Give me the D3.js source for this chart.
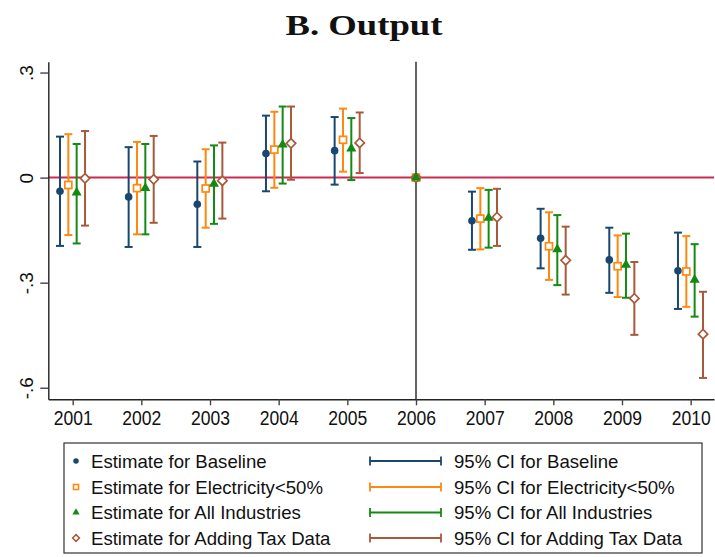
<!DOCTYPE html>
<html><head><meta charset="utf-8">
<script src="https://cdn.jsdelivr.net/npm/d3@7/dist/d3.min.js"></script>
<style>body{margin:0;background:#fff}</style>
</head><body>
<svg id="chart" width="715" height="557"></svg>
<script>
const years = [2001, 2002, 2003, 2004, 2005, 2006, 2007, 2008, 2009, 2010];
const refYear = 2006;
const seriesNames = ["Baseline", "Electricity<50%", "All Industries", "Adding Tax Data"];
const yTickValues = [0.3, 0, -0.3, -0.6];
const yTickLabels = [".3", "0", "-.3", "-.6"];

const baselineEst = [-0.039, -0.055, -0.076, 0.069, 0.077, 0, -0.123, -0.173, -0.235, -0.266];
const baselineLo  = [-0.195, -0.198, -0.198, -0.039, -0.020, 0, -0.206, -0.259, -0.329, -0.375];
const baselineHi  = [0.117, 0.087, 0.046, 0.177, 0.173, 0, -0.040, -0.089, -0.143, -0.157];

const elecEst = [-0.021, -0.030, -0.031, 0.080, 0.108, 0, -0.117, -0.196, -0.253, -0.268];
const elecLo  = [-0.164, -0.162, -0.143, -0.029, 0.017, 0, -0.205, -0.292, -0.341, -0.369];
const elecHi  = [0.124, 0.102, 0.081, 0.188, 0.197, 0, -0.030, -0.099, -0.165, -0.167];

const allEst = [-0.043, -0.030, -0.018, 0.094, 0.083, 0, -0.115, -0.205, -0.249, -0.292];
const allLo  = [-0.188, -0.162, -0.132, -0.017, -0.007, 0, -0.200, -0.307, -0.343, -0.397];
const allHi  = [0.096, 0.096, 0.092, 0.203, 0.170, 0, -0.035, -0.107, -0.160, -0.190];

const taxEst = [-0.002, -0.005, -0.009, 0.098, 0.099, 0, -0.113, -0.236, -0.345, -0.447];
const taxLo  = [-0.137, -0.129, -0.117, -0.006, 0.013, 0, -0.195, -0.334, -0.449, -0.572];
const taxHi  = [0.133, 0.119, 0.100, 0.203, 0.186, 0, -0.032, -0.140, -0.241, -0.326];

const colors = ["#1a476f", "#ff8811", "#138a13", "#a8593a"];
const markers = ["circle", "square", "triangle", "diamond"];
const offsets = [-0.185, -0.063, 0.058, 0.18];

const series = seriesNames.map((name, i) => ({
  name, color: colors[i], marker: markers[i], offset: offsets[i],
  values: years.map((yr, j) => ({
    year: yr,
    est: [baselineEst, elecEst, allEst, taxEst][i][j],
    lo: [baselineLo, elecLo, allLo, taxLo][i][j],
    hi: [baselineHi, elecHi, allHi, taxHi][i][j]
  }))
}));

const svg = d3.select("#chart");
const pLeft = 48.3, pRight = 714, pTop = 61.7, pBottom = 399.3;
const x = d3.scaleLinear().domain([2000.645, 2010.34]).range([pLeft, pRight]);
const y = d3.scaleLinear().domain([-0.633, 0.331]).range([pBottom, pTop]);
const font = "'Liberation Sans', Arial, Helvetica, sans-serif";

// title
svg.append("text").attr("x", 364).attr("y", 35).attr("text-anchor", "middle")
  .attr("font-family", "'Liberation Serif', 'Times New Roman', serif").attr("font-weight", "bold")
  .attr("font-size", 30).attr("textLength", 157).attr("lengthAdjust", "spacingAndGlyphs")
  .attr("fill", "#111").text("B. Output");

// zero line
svg.append("line").attr("x1", pLeft).attr("x2", pRight).attr("y1", y(0)).attr("y2", y(0))
  .attr("stroke", "#cc2a52").attr("stroke-width", 2);
// reference year line
svg.append("line").attr("x1", x(refYear)).attr("x2", x(refYear)).attr("y1", pTop).attr("y2", pBottom)
  .attr("stroke", "#222").attr("stroke-width", 1.4);

// axes
const yAxis = d3.axisLeft(y).tickValues(yTickValues)
  .tickFormat((d, i) => yTickLabels[i]).tickSize(8).tickSizeOuter(0);
const gy = svg.append("g").attr("transform", `translate(${pLeft},0)`).call(yAxis);
gy.select(".domain").attr("stroke", "#222").attr("stroke-width", 1.4);
gy.selectAll(".tick line").attr("stroke", "#444").attr("stroke-width", 1.4);
gy.selectAll(".tick text").attr("transform", "rotate(-90)").attr("x", 0).attr("y", -15.5)
  .attr("dy", 0).attr("text-anchor", "middle").attr("font-family", font).attr("font-size", 19).attr("fill", "#111");

const xAxis = d3.axisBottom(x).tickValues(years).tickFormat(d3.format("d")).tickSize(6).tickSizeOuter(0).tickPadding(6.2);
const gx = svg.append("g").attr("transform", `translate(0,${pBottom})`).call(xAxis);
gx.select(".domain").attr("stroke", "#222").attr("stroke-width", 1.4);
gx.selectAll(".tick line").attr("stroke", "#444").attr("stroke-width", 1.4);
gx.selectAll(".tick text").attr("font-family", font).attr("font-size", 19.5).attr("fill", "#111")
  .attr("textLength", 39).attr("lengthAdjust", "spacingAndGlyphs");

function xPos(s, d) { return x(d.year + (d.year === refYear ? 0 : s.offset)); }

function drawMarker(g, type, cx, cy, color, scale) {
  const k = scale || 1;
  if (type === "circle") {
    g.append("circle").attr("cx", cx).attr("cy", cy).attr("r", 3.8 * k).attr("fill", color);
  } else if (type === "square") {
    const h = 3.5 * k;
    g.append("rect").attr("x", cx - h).attr("y", cy - h).attr("width", 2 * h).attr("height", 2 * h)
      .attr("fill", "#fff").attr("stroke", color).attr("stroke-width", 1.7 * Math.min(1, k + 0.2));
  } else if (type === "triangle") {
    g.append("path").attr("d", d3.symbol().type(d3.symbolTriangle).size(44 * k * k)())
      .attr("transform", `translate(${cx},${cy})`).attr("fill", color);
  } else {
    const h = 4.7 * k;
    g.append("path").attr("d", `M${cx},${cy - h}L${cx + h},${cy}L${cx},${cy + h}L${cx - h},${cy}Z`)
      .attr("fill", "#fff").attr("stroke", color).attr("stroke-width", 1.7 * Math.min(1, k + 0.2));
  }
}

// error bars
series.forEach(s => {
  const g = svg.append("g");
  s.values.filter(d => d.hi !== d.lo).forEach(d => {
    const cx = xPos(s, d);
    g.append("line").attr("x1", cx).attr("x2", cx).attr("y1", y(d.lo)).attr("y2", y(d.hi))
      .attr("stroke", s.color).attr("stroke-width", 2);
    [d.lo, d.hi].forEach(v => g.append("line").attr("x1", cx - 4).attr("x2", cx + 4)
      .attr("y1", y(v)).attr("y2", y(v)).attr("stroke", s.color).attr("stroke-width", 2));
  });
});
// markers (triangle drawn last so it sits on top where markers coincide)
[0, 1, 3, 2].map(i => series[i]).forEach(s => {
  const g = svg.append("g");
  s.values.forEach(d => drawMarker(g, s.marker, xPos(s, d), y(d.est), s.color));
});

// legend
const lg = svg.append("g");
lg.append("rect").attr("x", 64).attr("y", 443).attr("width", 638).attr("height", 110)
  .attr("fill", "#fff").attr("stroke", "#333").attr("stroke-width", 1.2);
const rowY = [461, 487, 512.5, 538];
series.forEach((s, i) => {
  drawMarker(lg, s.marker, 76, rowY[i], s.color, 0.72);
  lg.append("text").attr("x", 91).attr("y", rowY[i]).attr("dy", "0.35em").attr("font-family", font)
    .attr("font-size", 18.6).attr("fill", "#111").text("Estimate for " + s.name);
  lg.append("line").attr("x1", 370).attr("x2", 441).attr("y1", rowY[i]).attr("y2", rowY[i])
    .attr("stroke", s.color).attr("stroke-width", 1.8);
  [370, 441].forEach(xx => lg.append("line").attr("x1", xx).attr("x2", xx)
    .attr("y1", rowY[i] - 4.5).attr("y2", rowY[i] + 4.5).attr("stroke", s.color).attr("stroke-width", 1.8));
  lg.append("text").attr("x", 454).attr("y", rowY[i]).attr("dy", "0.35em").attr("font-family", font)
    .attr("font-size", 18.6).attr("fill", "#111").text("95% CI for " + s.name);
});
</script>
</body></html>
